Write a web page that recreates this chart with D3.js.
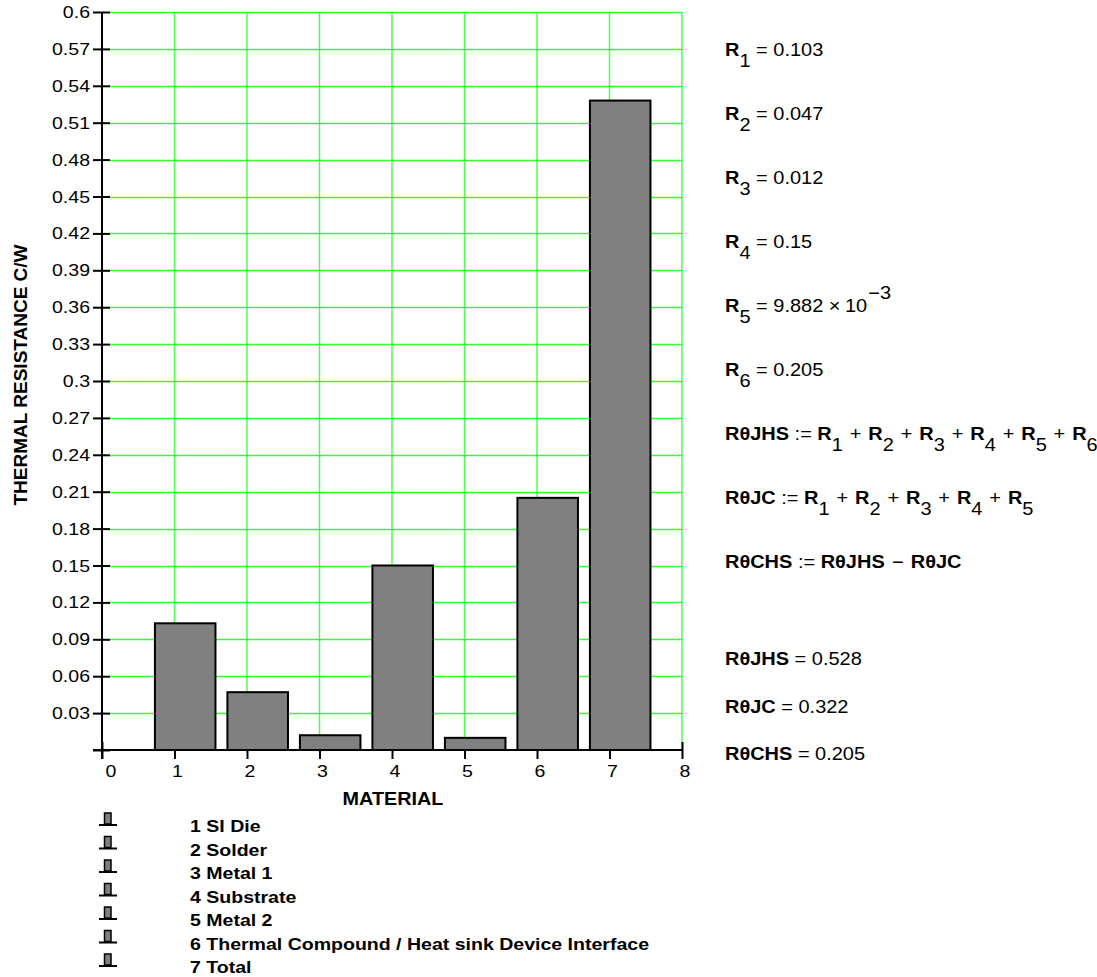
<!DOCTYPE html>
<html>
<head>
<meta charset="utf-8">
<script src="https://cdn.jsdelivr.net/npm/d3@7"></script>
<style>
  html, body { margin: 0; padding: 0; background: #ffffff; }
  svg { display: block; font-family: "Liberation Sans", Arial, sans-serif; }
</style>
</head>
<body>
<svg id="chart" width="1097" height="977"></svg>
<script>
// ---- data -------------------------------------------------------------
const materials = [1, 2, 3, 4, 5, 6, 7];
const materialNames = [
  "1 SI Die",
  "2 Solder",
  "3 Metal 1",
  "4 Substrate",
  "5 Metal 2",
  "6 Thermal Compound / Heat sink Device Interface",
  "7 Total"
];
// thermal resistance per layer (C/W); the last entry is the total
const resistance = [0.103, 0.047, 0.012, 0.15, 0.009882, 0.205, 0.528];

const yTickValues = [0.03, 0.06, 0.09, 0.12, 0.15, 0.18, 0.21, 0.24, 0.27, 0.3,
                     0.33, 0.36, 0.39, 0.42, 0.45, 0.48, 0.51, 0.54, 0.57, 0.6];
const yTickLabels = ["0.03", "0.06", "0.09", "0.12", "0.15", "0.18", "0.21", "0.24", "0.27", "0.3",
                     "0.33", "0.36", "0.39", "0.42", "0.45", "0.48", "0.51", "0.54", "0.57", "0.6"];
const xTickValues = [0, 1, 2, 3, 4, 5, 6, 7, 8];
const xTickLabels = ["0", "1", "2", "3", "4", "5", "6", "7", "8"];

const totalNames = ["R\u03b8JHS", "R\u03b8JC", "R\u03b8CHS"];
const totalValues = [0.528, 0.322, 0.205];

// ---- layout -----------------------------------------------------------
const svg = d3.select("#chart");
const x = d3.scaleLinear().domain([0, 8]).range([102, 682]);
const y = d3.scaleLinear().domain([0, 0.6]).range([750, 12]);

const GRID = "#00ff00";
const BAR_FILL = "#808080";

function label(parent, px, py, str, opt = {}) {
  const sx = opt.sx || 1.13;
  return parent.append("text")
    .attr("transform", `translate(${px},${py}) scale(${sx},1)`)
    .attr("text-anchor", opt.anchor || "start")
    .attr("font-size", opt.size || 17)
    .attr("font-weight", opt.bold ? "bold" : "normal")
    .attr("fill", "#000")
    .text(str);
}

// ---- grid -------------------------------------------------------------
const grid = svg.append("g");
grid.selectAll("line.h").data(yTickValues).join("line")
  .attr("x1", 110).attr("x2", x(8))
  .attr("y1", d => Math.round(y(d)) + 0.5).attr("y2", d => Math.round(y(d)) + 0.5)
  .attr("stroke", GRID).attr("stroke-opacity", 0.8).attr("stroke-width", 1.3);
grid.selectAll("line.v").data(xTickValues.slice(1)).join("line")
  .attr("x1", d => x(d)).attr("x2", d => x(d))
  .attr("y1", y(0.6)).attr("y2", y(0))
  .attr("stroke", GRID).attr("stroke-opacity", 0.7).attr("stroke-width", 1.5);

// ---- axes (ticks cross the axis lines) --------------------------------
const yAxis = svg.append("g").attr("transform", `translate(${x(0)},0)`)
  .call(d3.axisLeft(y).tickValues([0].concat(yTickValues)).tickSize(9).tickFormat(""));
yAxis.select(".domain").remove();
yAxis.selectAll(".tick line").attr("x1", 8).attr("stroke", "#000").attr("stroke-width", 2);

const xAxis = svg.append("g").attr("transform", `translate(0,${y(0)})`)
  .call(d3.axisBottom(x).tickValues(xTickValues).tickSize(9).tickFormat(""));
xAxis.select(".domain").remove();
xAxis.selectAll(".tick line").attr("y1", -8).attr("stroke", "#000").attr("stroke-width", 2);

// ---- bars -------------------------------------------------------------
svg.append("g").selectAll("rect").data(materials).join("rect")
  .attr("x", d => x(d - 0.27))
  .attr("width", d => x(d + 0.565) - x(d - 0.27))
  .attr("y", (d, i) => y(resistance[i]))
  .attr("height", (d, i) => y(0) - y(resistance[i]))
  .attr("fill", BAR_FILL)
  .attr("stroke", "#000")
  .attr("stroke-width", 2);

// axis lines on top
svg.append("line").attr("x1", x(0)).attr("x2", x(0)).attr("y1", y(0.6)).attr("y2", y(0) + 9)
  .attr("stroke", "#000").attr("stroke-width", 2);
svg.append("line").attr("x1", x(0) - 9).attr("x2", x(8)).attr("y1", y(0)).attr("y2", y(0))
  .attr("stroke", "#000").attr("stroke-width", 2);

// ---- tick labels ------------------------------------------------------
const labels = svg.append("g");
yTickValues.forEach((v, i) => label(labels, 90, y(v) + 6, yTickLabels[i], { anchor: "end", sx: 1.15 }));
xTickValues.forEach((v, i) => label(labels, x(v) + (v === 0 ? 9 : 3), 777, xTickLabels[i], { anchor: "middle", sx: 1.15 }));

// ---- axis titles ------------------------------------------------------
label(svg, 393, 805, "MATERIAL", { anchor: "middle", bold: true, size: 18, sx: 1.1 });
svg.append("text")
  .attr("transform", "translate(27,375) rotate(-90)")
  .attr("text-anchor", "middle")
  .attr("font-size", 19).attr("font-weight", "bold")
  .text("THERMAL RESISTANCE C/W");

// ---- legend -----------------------------------------------------------
const legend = svg.append("g");
materialNames.forEach((name, i) => {
  const top = 813 + 23.5 * i;
  legend.append("rect").attr("x", 104.5).attr("y", top).attr("width", 6.5).attr("height", 11)
    .attr("fill", BAR_FILL).attr("stroke", "#000").attr("stroke-width", 1.5);
  legend.append("line").attr("x1", 99).attr("x2", 117).attr("y1", top + 12).attr("y2", top + 12)
    .attr("stroke", "#000").attr("stroke-width", 2);
  label(legend, 190, top + 19, name, { bold: true, size: 17, sx: 1.15 });
});

// ---- worksheet equations on the right ---------------------------------
const eq = svg.append("g");
function formula(py, parts) {
  const t = eq.append("text")
    .attr("transform", `translate(725,${py}) scale(1.11,1)`)
    .attr("font-size", 18);
  let shift = 0;
  parts.forEach(([str, kind, dx]) => {
    const target = kind === "sub" ? 11 : kind === "sup" ? -13 : 0;
    const ts = t.append("tspan")
      .attr("dy", target - shift)
      .attr("font-weight", kind === "b" ? "bold" : "normal")
      .text(str);
    if (dx) ts.attr("dx", dx);
    shift = target;
  });
  return t;
}
function valueParts(v) {
  if (v < 0.01) {
    return [[(v * 1e3).toFixed(3), "r"], ["\u00d7", "r", 5], ["10", "r", 4], ["\u22123", "sup", 1]];
  }
  return [[String(v), "r"]];
}

resistance.slice(0, 6).forEach((v, i) => {
  formula(56 + 64 * i, [["R", "b"], [String(i + 1), "sub"], [" = ", "r"]].concat(valueParts(v)));
});

function sumParts(n) {
  const parts = [];
  for (let k = 1; k <= n; k++) {
    parts.push(["R", "b", k > 1 ? 1.2 : 0], [String(k), "sub"]);
    if (k < n) parts.push([" + ", "r", 1.2]);
  }
  return parts;
}
formula(440, [[totalNames[0], "b"], [" := ", "r"]].concat(sumParts(6)));
formula(504, [[totalNames[1], "b"], [" := ", "r"]].concat(sumParts(5)));
formula(568, [[totalNames[2], "b"], [" := ", "r"], [totalNames[0], "b"], [" \u2212 ", "r", 1.5], [totalNames[1], "b", 1.5]]);

totalNames.forEach((name, i) => {
  formula(665 + 47.5 * i, [[name, "b"], [" = ", "r"], [String(totalValues[i]), "r"]]);
});
</script>
</body>
</html>
